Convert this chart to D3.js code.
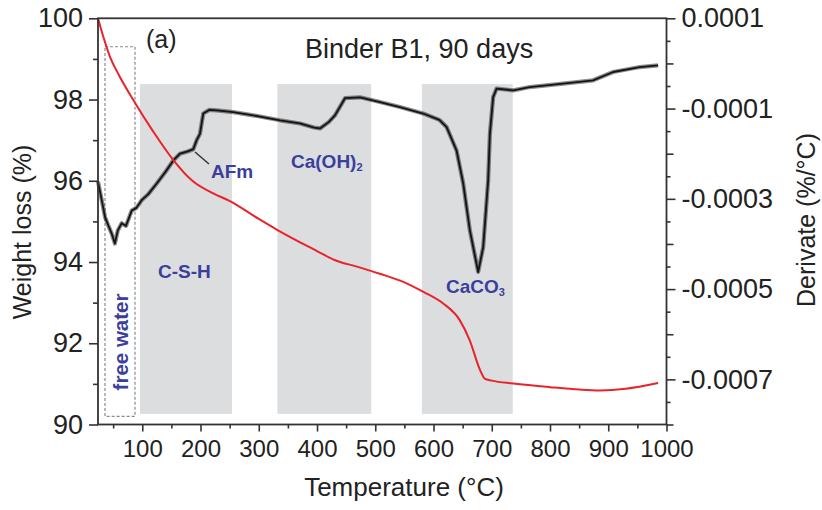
<!DOCTYPE html>
<html>
<head>
<meta charset="utf-8">
<script src="https://cdn.jsdelivr.net/npm/d3@7"></script>
<style>
  body { margin: 0; background: #fff; }
  svg { font-family: "Liberation Sans", Arial, sans-serif; }
  .tick text { fill: #222; }
  .tick line { stroke: #333; stroke-width: 1.6; }
</style>
</head>
<body>
<svg id="chart" width="822" height="510"></svg>
<script>
// weight loss curve (TG), temperature in °C vs weight %
var tgTemp = [24, 33, 44.6, 60, 84.6, 118.9, 153.3, 187.6, 221.9, 250.6, 300, 330.7, 400, 430, 470, 508, 550, 582, 616.6, 645, 662, 680, 688, 700, 737, 800, 851, 885.6, 930, 985.6];
var tgWeight = [100, 99.55, 99.05, 98.6, 97.99, 97.21, 96.51, 95.98, 95.69, 95.5, 95.06, 94.8, 94.27, 94.05, 93.88, 93.71, 93.5, 93.27, 92.98, 92.57, 92.08, 91.34, 91.13, 91.08, 91.01, 90.92, 90.86, 90.84, 90.88, 91.02];

// derivative curve (DTG)
var dtgTemp = [24, 30, 36, 42, 47.5, 53, 58, 64.7, 72, 81.9, 90, 99, 110, 124.8, 140, 153.3, 164.8, 178, 187.6, 193.4, 199, 204.7, 215, 227.7, 256.2, 290.5, 336.4, 370.7, 395, 405, 420, 430.8, 448, 474, 508, 542.3, 582.3, 610, 622.5, 639.6, 651, 662.4, 676.7, 685.3, 693.8, 696.8, 702.4, 708.3, 736.8, 765.4, 822.6, 874, 908.4, 954.2, 985.6];
var dtgValue = [-0.000262, -0.000300, -0.000340, -0.000360, -0.000377, -0.000399, -0.000370, -0.000354, -0.000360, -0.000326, -0.000320, -0.000303, -0.000290, -0.000266, -0.000240, -0.000215, -0.000200, -0.000195, -0.000190, -0.000170, -0.000156, -0.000111, -0.000103, -0.000104, -0.000108, -0.000115, -0.000126, -0.000133, -0.000142, -0.000144, -0.000130, -0.000115, -0.000077, -0.000075, -0.0000855, -0.0000966, -0.000111, -0.000125, -0.000141, -0.000193, -0.000266, -0.000370, -0.000462, -0.000407, -0.000259, -0.000156, -0.0000745, -0.0000558, -0.0000596, -0.0000523, -0.0000448, -0.0000374, -0.000019, -0.000008, -0.0000042];

// shaded decomposition ranges (°C)
var bandStart = [96, 332, 580];
var bandEnd = [254, 493, 736];
var bandTop = 98.38;
var bandBottom = 90.26;

// dashed "free water" box
var freeWaterBox = [36, 87.5, 99.3, 90.2];

// ticks
var xMajor = [100, 200, 300, 400, 500, 600, 700, 800, 900, 1000];
var xMinor = [50, 150, 250, 350, 450, 550, 650, 750, 850, 950];
var yLeftMajor = [90, 92, 94, 96, 98, 100];
var yLeftMinor = [91, 93, 95, 97, 99];
var yRightMajor = [0.0001, -0.0001, -0.0003, -0.0005, -0.0007];
var yRightMid = [0, -0.0002, -0.0004, -0.0006, -0.0008];
var yRightMinor = [0.00005, -0.00005, -0.00015, -0.00025, -0.00035, -0.00045, -0.00055, -0.00065, -0.00075];

var svg = d3.select('#chart');

var plotLeft = 98, plotRight = 666.5, plotTop = 18.3, plotBottom = 424.5;

var xScale = d3.scaleLinear().domain([24, 1000]).range([plotLeft, plotRight]);
var yLeft = d3.scaleLinear().domain([90, 100]).range([plotBottom, plotTop]);
var yRight = d3.scaleLinear().domain([-0.0008, 0.0001]).range([plotBottom, plotTop]);

var blue = '#3b3f9c';

// shaded bands
svg.append('g').selectAll('rect')
  .data(bandStart)
  .enter()
  .append('rect')
  .attr('x', d => xScale(d))
  .attr('y', yLeft(bandTop))
  .attr('width', (d, i) => xScale(bandEnd[i]) - xScale(d))
  .attr('height', yLeft(bandBottom) - yLeft(bandTop))
  .attr('fill', '#dcdddf');

// free water box
svg.append('rect')
  .attr('x', xScale(freeWaterBox[0]))
  .attr('y', yLeft(freeWaterBox[2]))
  .attr('width', xScale(freeWaterBox[1]) - xScale(freeWaterBox[0]))
  .attr('height', yLeft(freeWaterBox[3]) - yLeft(freeWaterBox[2]))
  .attr('fill', 'none')
  .attr('stroke', '#8a8a8a')
  .attr('stroke-width', 1.2)
  .attr('stroke-dasharray', '3,2');

// DTG curve, drawn as a noisy band plus core line
var dtgLine = d3.line()
  .x((d, i) => xScale(dtgTemp[i]))
  .y(d => yRight(d));

svg.append('path')
  .attr('d', dtgLine(dtgValue))
  .attr('fill', 'none')
  .attr('stroke', '#1c1c1c')
  .attr('stroke-width', 4.2)
  .attr('stroke-linejoin', 'round')
  .attr('opacity', 0.5);

svg.append('path')
  .attr('d', dtgLine(dtgValue))
  .attr('fill', 'none')
  .attr('stroke', '#141414')
  .attr('stroke-width', 1.8)
  .attr('stroke-linejoin', 'round');

// TG curve
var tgLine = d3.line()
  .x((d, i) => xScale(tgTemp[i]))
  .y(d => yLeft(d))
  .curve(d3.curveMonotoneX);

svg.append('path')
  .attr('d', tgLine(tgWeight))
  .attr('fill', 'none')
  .attr('stroke', '#e8232b')
  .attr('stroke-width', 2);

// axes
function styleAxis(g, size) {
  g.select('.domain').remove();
  g.selectAll('.tick text').style('font-size', size);
}

svg.append('g')
  .attr('transform', `translate(0, ${plotBottom})`)
  .call(d3.axisBottom(xScale).tickValues(xMajor).tickSize(7).tickPadding(8).tickFormat(d3.format('d')))
  .call(g => styleAxis(g, '24px'));

svg.append('g')
  .attr('transform', `translate(0, ${plotBottom})`)
  .call(d3.axisBottom(xScale).tickValues(xMinor).tickSize(4).tickFormat(''))
  .call(g => styleAxis(g, '24px'));

svg.append('g')
  .attr('transform', `translate(${plotLeft}, 0)`)
  .call(d3.axisLeft(yLeft).tickValues(yLeftMajor).tickSize(9).tickPadding(6).tickFormat(d3.format('d')))
  .call(g => styleAxis(g, '27px'));

svg.append('g')
  .attr('transform', `translate(${plotLeft}, 0)`)
  .call(d3.axisLeft(yLeft).tickValues(yLeftMinor).tickSize(5).tickFormat(''))
  .call(g => styleAxis(g, '27px'));

svg.append('g')
  .attr('transform', `translate(${plotRight}, 0)`)
  .call(d3.axisRight(yRight).tickValues(yRightMajor).tickSize(9).tickPadding(6).tickFormat(d => d.toFixed(4)))
  .call(g => styleAxis(g, '27px'));

svg.append('g')
  .attr('transform', `translate(${plotRight}, 0)`)
  .call(d3.axisRight(yRight).tickValues(yRightMid).tickSize(7).tickFormat(''))
  .call(g => styleAxis(g, '27px'));

svg.append('g')
  .attr('transform', `translate(${plotRight}, 0)`)
  .call(d3.axisRight(yRight).tickValues(yRightMinor).tickSize(4).tickFormat(''))
  .call(g => styleAxis(g, '27px'));

// frame
svg.append('rect')
  .attr('x', plotLeft)
  .attr('y', plotTop)
  .attr('width', plotRight - plotLeft)
  .attr('height', plotBottom - plotTop)
  .attr('fill', 'none')
  .attr('stroke', '#333')
  .attr('stroke-width', 1.8);

// axis titles
svg.append('text')
  .attr('transform', 'translate(31, 232) rotate(-90)')
  .attr('text-anchor', 'middle')
  .style('font-size', '25px')
  .attr('fill', '#222')
  .text('Weight loss (%)');

svg.append('text')
  .attr('transform', 'translate(815, 220) rotate(-90)')
  .attr('text-anchor', 'middle')
  .style('font-size', '25px')
  .attr('fill', '#222')
  .text('Derivate (%/°C)');

svg.append('text')
  .attr('x', 404)
  .attr('y', 496)
  .attr('text-anchor', 'middle')
  .style('font-size', '26px')
  .attr('fill', '#222')
  .text('Temperature (°C)');

// panel text
svg.append('text')
  .attr('x', 146)
  .attr('y', 48)
  .style('font-size', '25px')
  .attr('fill', '#222')
  .text('(a)');

svg.append('text')
  .attr('x', 305)
  .attr('y', 58)
  .style('font-size', '27px')
  .attr('fill', '#222')
  .text('Binder B1, 90 days');

// phase labels
svg.append('line')
  .attr('x1', 195).attr('y1', 152)
  .attr('x2', 209).attr('y2', 164)
  .attr('stroke', '#333')
  .attr('stroke-width', 1.5);

function phaseLabel(x, y, main, sub) {
  var t = svg.append('text')
    .attr('x', x)
    .attr('y', y)
    .attr('fill', blue)
    .style('font-size', '19px')
    .style('font-weight', 'bold')
    .text(main);
  if (sub) {
    t.append('tspan')
      .attr('dy', 3)
      .style('font-size', '11px')
      .text(sub);
  }
}

phaseLabel(211, 178, 'AFm');
phaseLabel(291, 168, 'Ca(OH)', '2');
phaseLabel(158, 278, 'C-S-H');
phaseLabel(446, 293, 'CaCO', '3');

svg.append('text')
  .attr('transform', 'translate(128, 342) rotate(-90)')
  .attr('text-anchor', 'middle')
  .attr('fill', blue)
  .style('font-size', '20.5px')
  .style('font-weight', 'bold')
  .text('free water');
</script>
</body>
</html>
